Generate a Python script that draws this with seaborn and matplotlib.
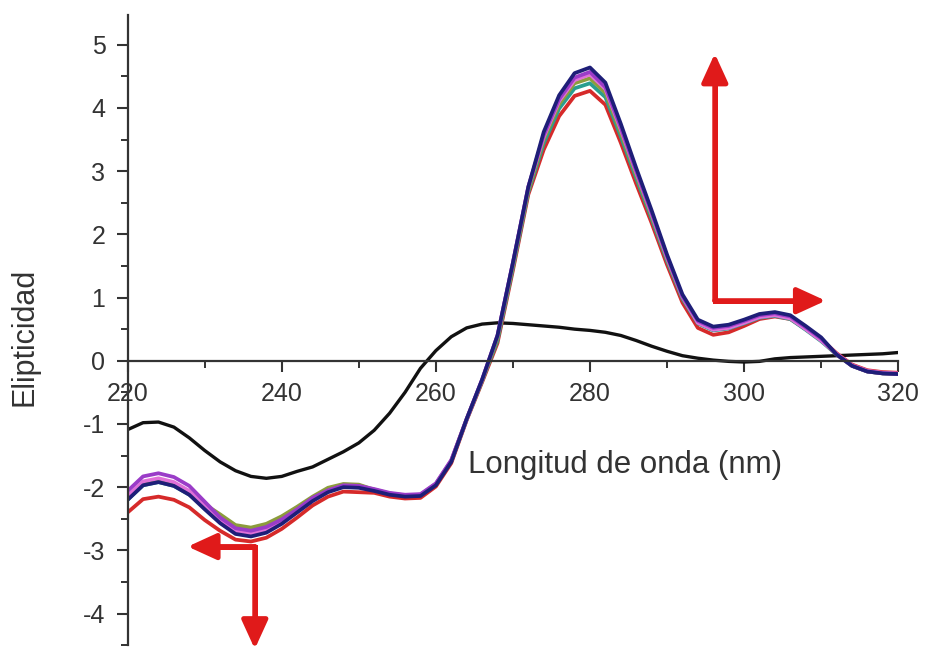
import matplotlib
matplotlib.use("Agg")
import matplotlib.pyplot as plt
import numpy as np
import pandas as pd
import seaborn as sns

# Wavelength grid (nm)
wavelength = list(range(220, 321, 2))

# CD spectra (ellipticity) for the free sample and the titration series
libre = [-1.09, -0.98, -0.97, -1.05, -1.22, -1.42, -1.60, -1.74, -1.83, -1.86,
         -1.83, -1.75, -1.68, -1.56, -1.44, -1.30, -1.10, -0.83, -0.50, -0.12,
         0.16, 0.38, 0.52, 0.58, 0.60, 0.59, 0.57, 0.55, 0.53, 0.50,
         0.48, 0.45, 0.40, 0.32, 0.23, 0.15, 0.08, 0.04, 0.01, -0.01,
         -0.02, -0.01, 0.03, 0.05, 0.06, 0.07, 0.08, 0.09, 0.10, 0.11, 0.13]

r_rojo = [-2.40, -2.19, -2.15, -2.20, -2.32, -2.52, -2.69, -2.83, -2.86, -2.80,
          -2.66, -2.48, -2.29, -2.15, -2.07, -2.08, -2.09, -2.15, -2.18, -2.17,
          -1.99, -1.62, -0.94, -0.34, 0.28, 1.43, 2.63, 3.34, 3.87, 4.19,
          4.27, 4.05, 3.45, 2.80, 2.18, 1.52, 0.92, 0.52, 0.41, 0.45,
          0.55, 0.66, 0.70, 0.66, 0.50, 0.34, 0.12, -0.06, -0.15, -0.18, -0.19]

r_turquesa = [-2.20, -1.97, -1.92, -1.98, -2.12, -2.30, -2.47, -2.64, -2.68, -2.62,
              -2.49, -2.33, -2.18, -2.04, -1.96, -1.97, -2.05, -2.11, -2.14, -2.13,
              -1.96, -1.59, -0.93, -0.32, 0.32, 1.47, 2.67, 3.44, 3.99, 4.31,
              4.39, 4.17, 3.55, 2.89, 2.25, 1.58, 0.98, 0.59, 0.48, 0.51,
              0.59, 0.68, 0.71, 0.66, 0.49, 0.31, 0.10, -0.08, -0.17, -0.20, -0.21]

r_oliva = [-2.17, -1.94, -1.89, -1.95, -2.09, -2.27, -2.43, -2.60, -2.64, -2.58,
           -2.46, -2.31, -2.15, -2.01, -1.95, -1.96, -2.04, -2.10, -2.13, -2.12,
           -1.95, -1.58, -0.92, -0.32, 0.36, 1.50, 2.70, 3.50, 4.06, 4.39,
           4.47, 4.24, 3.61, 2.94, 2.29, 1.61, 1.00, 0.61, 0.50, 0.53,
           0.61, 0.70, 0.73, 0.68, 0.51, 0.33, 0.10, -0.08, -0.17, -0.20, -0.21]

r_rosa = [-2.14, -1.91, -1.86, -1.92, -2.06, -2.30, -2.52, -2.69, -2.73, -2.67,
          -2.54, -2.36, -2.18, -2.06, -1.98, -1.99, -2.04, -2.10, -2.13, -2.12,
          -1.95, -1.58, -0.92, -0.30, 0.40, 1.55, 2.75, 3.54, 4.11, 4.44,
          4.53, 4.30, 3.66, 2.98, 2.32, 1.63, 1.01, 0.60, 0.49, 0.52,
          0.60, 0.69, 0.72, 0.67, 0.50, 0.32, 0.11, -0.07, -0.16, -0.19, -0.20]

r_violeta = [-2.06, -1.83, -1.78, -1.84, -1.98, -2.23, -2.48, -2.65, -2.69, -2.63,
             -2.51, -2.35, -2.17, -2.05, -1.97, -1.98, -2.03, -2.09, -2.12, -2.11,
             -1.94, -1.57, -0.92, -0.30, 0.40, 1.55, 2.75, 3.57, 4.14, 4.48,
             4.57, 4.33, 3.69, 3.00, 2.34, 1.65, 1.02, 0.63, 0.52, 0.55,
             0.63, 0.72, 0.75, 0.70, 0.53, 0.35, 0.10, -0.08, -0.17, -0.20, -0.21]

r_azul = [-2.20, -1.97, -1.92, -1.98, -2.12, -2.35, -2.57, -2.74, -2.78, -2.72,
          -2.58, -2.40, -2.22, -2.08, -2.00, -2.01, -2.06, -2.12, -2.15, -2.14,
          -1.97, -1.60, -0.92, -0.30, 0.40, 1.55, 2.75, 3.62, 4.20, 4.55,
          4.64, 4.40, 3.75, 3.05, 2.38, 1.68, 1.05, 0.65, 0.54, 0.57,
          0.65, 0.74, 0.77, 0.72, 0.55, 0.37, 0.10, -0.08, -0.17, -0.20, -0.21]

series = {
    "libre": libre,
    "r1": r_rojo,
    "r2": r_turquesa,
    "r3": r_oliva,
    "r4": r_rosa,
    "r5": r_violeta,
    "r6": r_azul,
}
colores = {
    "libre": "#111111",
    "r1": "#d62a2a",
    "r2": "#2a9d8f",
    "r3": "#8c9c3c",
    "r4": "#e070d8",
    "r5": "#9a3cc8",
    "r6": "#1e1e78",
}
orden = ["libre", "r1", "r2", "r3", "r4", "r5", "r6"]

df = pd.concat(
    [pd.DataFrame({"nm": wavelength, "elip": vals, "serie": name})
     for name, vals in series.items()],
    ignore_index=True,
)

sns.set_theme(style="white")
plt.rcParams["font.family"] = ["Liberation Sans", "DejaVu Sans"]
plt.rcParams["axes.unicode_minus"] = False

fig = plt.figure(figsize=(9.25, 6.53), dpi=100)
ax = fig.add_axes([0.138, 0.012, 0.833, 0.965])

sns.lineplot(data=df, x="nm", y="elip", hue="serie", hue_order=orden,
             palette=colores, linewidth=2.7, legend=False, ax=ax,
             estimator=None, sort=False)
for ln in ax.lines:
    ln.set_solid_joinstyle("round")
    ln.set_solid_capstyle("round")
ax.lines[0].set_linewidth(2.4)

ax.set_xlim(220, 320)
ax.set_ylim(-4.5, 5.47)

# Axes: y axis on the left, x axis running through zero
txt = "#333333"
for s in ("top", "right"):
    ax.spines[s].set_visible(False)
ax.spines["bottom"].set_position(("data", 0))
for s in ("left", "bottom"):
    ax.spines[s].set_color(txt)
    ax.spines[s].set_linewidth(1.6)

ax.set_xticks(range(220, 321, 20))
ax.set_xticks(range(230, 320, 20), minor=True)
ax.set_yticks(range(-4, 6))
ax.set_yticks(np.arange(-4.5, 5.5, 1.0), minor=True)
ax.tick_params(axis="both", which="major", direction="out", length=8,
               width=1.5, color=txt, labelsize=18, labelcolor=txt)
ax.tick_params(axis="both", which="minor", direction="out", length=5,
               width=1.4, color=txt)
ax.tick_params(axis="x", which="major", pad=7)
ax.tick_params(axis="y", which="major", pad=8)
ax.tick_params(axis="x", which="both", bottom=True)
ax.tick_params(axis="y", which="both", left=True)

ax.set_xlabel("")
ax.set_ylabel("")
ax.text(284.5, -1.65, "Longitud de onda (nm)", fontsize=22.5, color=txt,
        ha="center", va="center")
fig.text(25 / 925, 1 - 337 / 653, "Elipticidad", fontsize=22, color=txt,
         rotation=90, ha="center", va="center")

# Red arrows marking the direction of change
rojo_flecha = "#e01a1a"
flecha = dict(arrowstyle="-|>,head_length=0.7,head_width=0.32",
              color=rojo_flecha, lw=3.6, shrinkA=0, shrinkB=0,
              mutation_scale=25)

esquina_der = (296.2, 0.95)
punta_arriba = (296.2, 4.86)
punta_derecha = (310.6, 0.95)
ax.plot([punta_arriba[0], esquina_der[0], punta_derecha[0] - 1.5],
        [punta_arriba[1] - 0.3, esquina_der[1], punta_derecha[1]],
        color=rojo_flecha, lw=3.6, solid_joinstyle="miter", zorder=5)
ax.annotate("", xy=punta_arriba, xytext=esquina_der, arrowprops=flecha,
            annotation_clip=False, zorder=5)
ax.annotate("", xy=punta_derecha, xytext=esquina_der, arrowprops=flecha,
            annotation_clip=False, zorder=5)

esquina_izq = (236.5, -2.94)
punta_izquierda = (227.8, -2.94)
punta_abajo = (236.5, -4.56)
ax.plot([punta_izquierda[0] + 1.5, esquina_izq[0], punta_abajo[0]],
        [punta_izquierda[1], esquina_izq[1], punta_abajo[1] + 0.3],
        color=rojo_flecha, lw=3.6, solid_joinstyle="miter", zorder=5,
        clip_on=False)
ax.annotate("", xy=punta_izquierda, xytext=esquina_izq, arrowprops=flecha,
            annotation_clip=False, zorder=5)
ax.annotate("", xy=punta_abajo, xytext=esquina_izq, arrowprops=flecha,
            annotation_clip=False, zorder=5)

fig.savefig("out.png", dpi=100, facecolor="white")
